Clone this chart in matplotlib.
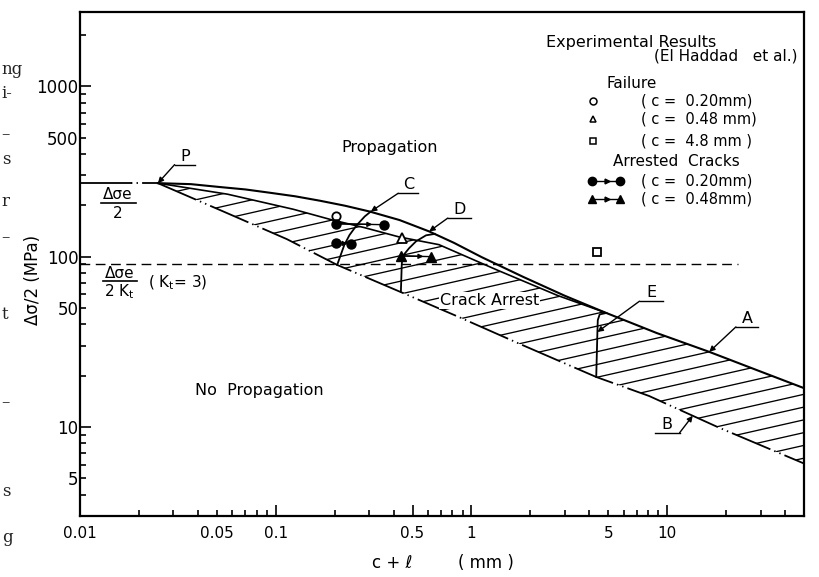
import numpy as np
import matplotlib
matplotlib.use("Agg")
import matplotlib.pyplot as plt
from matplotlib.patches import Polygon
from matplotlib.ticker import NullFormatter

plt.rcParams["font.family"] = "DejaVu Sans"
plt.rcParams["lines.scale_dashes"] = False

# curve A (upper limit): c + l (mm), stress (MPa)
a_x = [0.025, 0.0368, 0.0523, 0.0701, 0.0939, 0.126, 0.168, 0.226, 0.302, 0.429, 0.608,
       0.814, 1.13, 1.84, 2.99, 4.77, 8.84, 16.4, 28.3, 50]
a_y = [270, 266.5, 256, 248, 237, 226, 213, 199, 184, 164, 140.6,
       120.5, 99.2, 76.0, 59.0, 47.2, 35.6, 27.6, 21.7, 16.9]

# upper edge of the hatched (crack arrest) band, joins A near E
m_x = [0.025, 0.0567, 0.123, 0.195, 0.284, 0.427, 0.682, 1.37, 2.76, 4.77]
m_y = [270, 232.6, 189.7, 164, 148, 130.5, 117.6, 82.9, 59.1, 47.2]

# curve B (lower limit)
b_x = [0.025, 0.0565, 0.114, 0.206, 0.433, 0.851, 1.78, 4.34, 8.08, 18.2, 50]
b_y = [270, 180, 126.7, 89.4, 62.1, 44.5, 30.6, 19.65, 15.2, 9.96, 6.1]

# growth curves C, D, E
c_x = [0.206, 0.224, 0.238, 0.259, 0.285, 0.306]
c_y = [89.4, 117, 133.7, 152.8, 172.2, 184]
d_x = [0.436, 0.4405, 0.4455, 0.480, 0.521, 0.586, 0.65]
d_y = [62.4, 90.5, 100.8, 112, 123, 133.4, 136]
e_x = [4.34, 4.40, 4.42, 4.52, 4.9]
e_y = [19.65, 36.1, 42.4, 45.8, 46.7]

# fatigue limit levels
level_x = [0.01, 0.0182, 0.025]
level_y = 270
kt_x = [0.01, 23]
kt_y = 90

# experimental points
fail_c = (0.203, 173)
fail_t = (0.442, 128)
fail_s = (4.39, 106)
arr_c_x0 = [0.204, 0.204]
arr_c_y0 = [156, 120]
arr_c_x1 = [0.359, 0.243]
arr_c_y1 = [154, 119]
arr_t_x0 = [0.438]
arr_t_y0 = [101]
arr_t_x1 = [0.62]
arr_t_y1 = [100]

x_ticks = [0.01, 0.05, 0.1, 0.5, 1, 5, 10]
x_labels = ["0.01", "0.05", "0.1", "0.5", "1", "5", "10"]
y_ticks = [5, 10, 50, 100, 500, 1000]
y_labels = ["5", "10", "50", "100", "500", "1000"]

fig = plt.figure(figsize=(8.19, 5.77), dpi=100)
ax = fig.add_axes([80 / 819, 1 - 516 / 577, 724 / 819, 504.5 / 577])
ax.set_xscale("log")
ax.set_yscale("log")

# hatched region
region = list(zip(m_x, m_y)) + [(x, y) for x, y in zip(a_x, a_y) if x > m_x[-1]] \
    + list(zip(b_x, b_y))[::-1]
poly = Polygon(region, closed=True, facecolor="none", edgecolor="none")
ax.add_patch(poly)
hx = np.array([0.01, 60])
for b in np.arange(0.30, 2.90, 0.075):
    ln, = ax.plot(hx, 10 ** (b + 0.26 * np.log10(hx)), color="k", lw=0.95)
    ln.set_clip_path(poly)

lw = 1.5
ax.plot(a_x, a_y, color="k", lw=lw)
ax.plot(m_x, m_y, color="k", lw=1.2)
ax.plot(b_x, b_y, color="k", lw=1.3, linestyle=(0, (30, 3, 1, 3, 1, 3)))
for cx, cy in [(c_x, c_y), (d_x, d_y), (e_x, e_y)]:
    ax.plot(cx, cy, color="k", lw=1.3)

ax.plot(level_x[:2], [level_y] * 2, color="k", lw=1.3)
ax.plot(level_x[1:], [level_y] * 2, color="k", lw=1.3, linestyle=(0, (1, 3, 1, 3, 14, 2)))
ax.plot(kt_x, [kt_y] * 2, color="k", lw=1.0, linestyle=(0, (7, 4)))

# points
ax.plot(*fail_c, "o", ms=6, mfc="white", mec="k", mew=1.3)
ax.plot(*fail_t, "^", ms=6.5, mfc="white", mec="k", mew=1.3)
ax.plot(*fail_s, "s", ms=5.5, mfc="white", mec="k", mew=1.3)


def arrested(x0, y0, x1, y1, mk):
    for a, b_, c, d in zip(x0, y0, x1, y1):
        ax.plot([a, c], [b_, d], color="k", lw=1.0)
        ax.plot([a, c], [b_, d], mk, ms=6.5, color="k", ls="none")
        lx = 10 ** (np.log10(a) + 0.75 * (np.log10(c) - np.log10(a)))
        ly = 10 ** (np.log10(b_) + 0.75 * (np.log10(d) - np.log10(b_)))
        ax.annotate("", xy=(lx, ly), xytext=(a, b_),
                    arrowprops=dict(arrowstyle="-|>", lw=1.0, color="k",
                                    mutation_scale=7, shrinkA=0, shrinkB=0))


arrested(arr_c_x0, arr_c_y0, arr_c_x1, arr_c_y1, "o")
arrested(arr_t_x0, arr_t_y0, arr_t_x1, arr_t_y1, "^")


# labelled leaders
def leader(letter, target, knee, end):
    ax.annotate("", xy=target, xycoords="data", xytext=knee, textcoords="axes fraction",
                arrowprops=dict(arrowstyle="-|>", lw=1.0, color="k",
                                mutation_scale=8, shrinkA=0, shrinkB=0))
    ax.plot([knee[0], end[0]], [knee[1], end[1]], transform=ax.transAxes, color="k", lw=1.0)
    ax.text((knee[0] + end[0]) / 2, knee[1] + 0.008, letter, transform=ax.transAxes,
            ha="center", va="baseline", fontsize=11.5)


b_target_x = 13.5
b_target_y = 10 ** np.interp(np.log10(b_target_x), np.log10(b_x), np.log10(b_y))
leader("P", (a_x[0], a_y[0]), (0.1307, 0.6965), (0.159, 0.6965))
leader("C", (c_x[-1], c_y[-1]), (0.4395, 0.6397), (0.4671, 0.6397))
leader("D", (a_x[10], a_y[10]), (0.508, 0.5905), (0.5398, 0.5905))
leader("E", (e_x[1], e_y[1]), (0.7728, 0.4258), (0.8046, 0.4258))
leader("A", (a_x[17], a_y[17]), (0.9059, 0.3748), (0.9363, 0.3748))
leader("B", (b_target_x, b_target_y), (0.8282, 0.165), (0.7936, 0.165))

# region names
ax.text(0.428, 0.731, "Propagation", transform=ax.transAxes, ha="center", va="center", fontsize=11.5)
ax.text(0.247, 0.2496, "No  Propagation", transform=ax.transAxes, ha="center", va="center", fontsize=11.5)
ax.text(0.5656, 0.4266, "Crack Arrest", transform=ax.transAxes, ha="center", va="center",
        fontsize=11.5, zorder=5,
        bbox=dict(boxstyle="square,pad=0.05", facecolor="white", edgecolor="none"))

# fractions on the left
ax.text(0.0526, 0.6367, "Δσe", transform=ax.transAxes, ha="center", va="center", fontsize=11)
ax.plot([0.0291, 0.0775], [0.6208, 0.6208], transform=ax.transAxes, color="k", lw=1.2)
ax.text(0.0526, 0.600, "2", transform=ax.transAxes, ha="center", va="center", fontsize=11)
ax.text(0.055, 0.4801, "Δσe", transform=ax.transAxes, ha="center", va="center", fontsize=11)
ax.plot([0.0318, 0.0787], [0.4662, 0.4662], transform=ax.transAxes, color="k", lw=1.2)
ax.text(0.055, 0.444, r"2 K$_\mathregular{t}$", transform=ax.transAxes, ha="center", va="center", fontsize=11)
ax.text(0.135, 0.4622, r"( K$_\mathregular{t}$= 3)", transform=ax.transAxes, ha="center", va="center",
        fontsize=11)

# legend block
ax.text(0.7606, 0.9378, "Experimental Results", transform=ax.transAxes, ha="center", va="center",
        fontsize=11.5)
ax.text(0.8916, 0.9114, "(El Haddad   et al.)", transform=ax.transAxes, ha="center", va="center",
        fontsize=11)
ax.text(0.7624, 0.8563, "Failure", transform=ax.transAxes, ha="center", va="center", fontsize=11)
rows = [("o", 0.8218, "( c =  0.20mm)"), ("^", 0.7861, "( c =  0.48 mm)"), ("s", 0.7425, "( c =  4.8 mm )")]
for mk, fy, lab in rows:
    ax.plot([0.7081], [fy], mk, transform=ax.transAxes, ms=5, mfc="white", mec="k", mew=1.1)
    ax.text(0.7745, fy, lab, transform=ax.transAxes, ha="left", va="center", fontsize=10.5)
ax.text(0.8232, 0.7023, "Arrested  Cracks", transform=ax.transAxes, ha="center", va="center",
        fontsize=11)
rows = [("o", 0.665, "( c =  0.20mm)"), ("^", 0.6274, "( c =  0.48mm)")]
for mk, fy, lab in rows:
    ax.plot([0.7076, 0.7463], [fy, fy], "-", transform=ax.transAxes, color="k", lw=1.0)
    ax.plot([0.7076, 0.7463], [fy, fy], mk, transform=ax.transAxes, ms=6, color="k", ls="none")
    ax.plot([0.728], [fy], ">", transform=ax.transAxes, ms=3.5, color="k")
    ax.text(0.7745, fy, lab, transform=ax.transAxes, ha="left", va="center", fontsize=10.5)

# axes
ax.set_xlim(0.01, 50)
ax.set_ylim(3, 2750)
ax.set_xticks(x_ticks, labels=x_labels)
ax.set_yticks(y_ticks, labels=y_labels)
ax.xaxis.set_minor_formatter(NullFormatter())
ax.yaxis.set_minor_formatter(NullFormatter())
ax.tick_params(which="both", direction="in", top=False, right=False, width=1.2)
ax.tick_params(which="major", length=8)
ax.tick_params(which="minor", length=4.5)
ax.tick_params(axis="x", labelsize=11, pad=7)
ax.tick_params(axis="y", labelsize=12, pad=1)
for t, v in zip(ax.xaxis.get_major_ticks(), x_ticks):
    if str(v)[0] == "5" or str(v).endswith("05"):
        t.tick1line.set_markersize(4.5)
for t, v in zip(ax.yaxis.get_major_ticks(), y_ticks):
    if str(v)[0] == "5":
        t.tick1line.set_markersize(4.5)
for s in ax.spines.values():
    s.set_linewidth(1.6)

fig.text(33 / 819, 1 - 280 / 577, "Δσ/2 (MPa)", rotation=90, ha="center", va="center", fontsize=12)
fig.text(392 / 819, 1 - 563 / 577, "c + ℓ", ha="center", va="center", fontsize=12)
fig.text(486 / 819, 1 - 563 / 577, "( mm )", ha="center", va="center", fontsize=12)

# fragments of the facing page at the left edge
frag = ["ng", "i-", "–", "s", "r", "–", "t", "–", "s", "g"]
frag_y = [70, 93, 135, 160, 202, 238, 315, 403, 492, 538]
for s, py in zip(frag, frag_y):
    fig.text(0.002, 1 - py / 577, s, ha="left", va="center", fontsize=12,
             family="DejaVu Serif", color="#222222")

fig.savefig("out.png", dpi=100)
